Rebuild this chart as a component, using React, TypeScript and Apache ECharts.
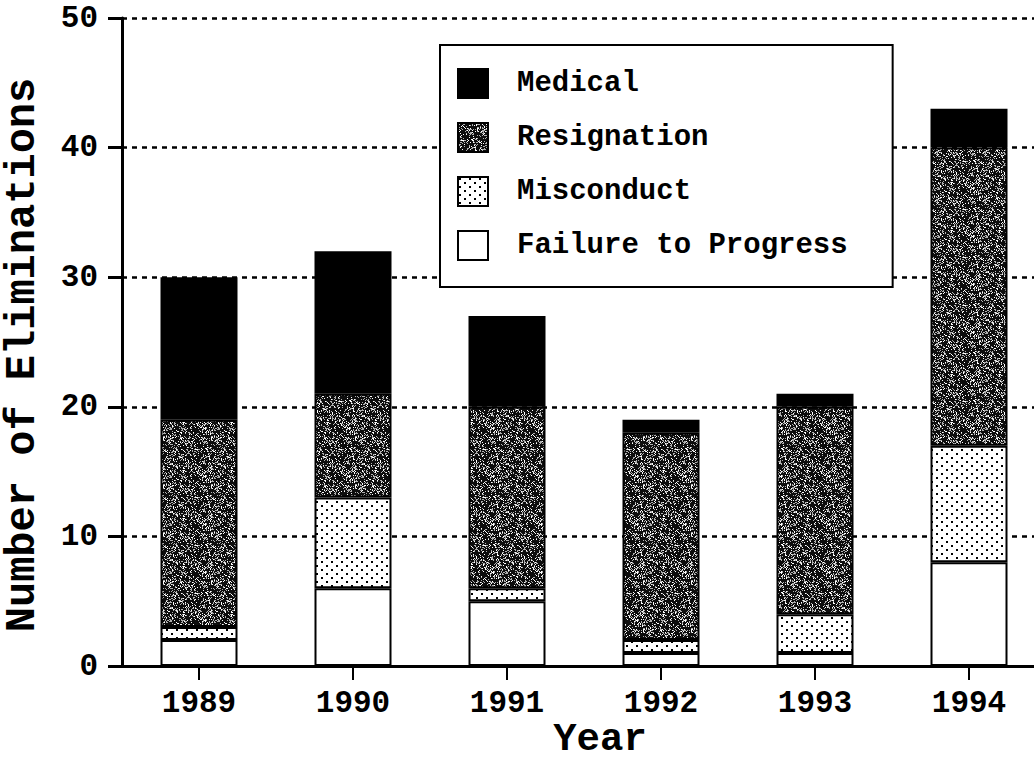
import React, { useEffect, useRef } from "react";
import * as echarts from "echarts";

const years = ["1989", "1990", "1991", "1992", "1993", "1994"];
const failureToProgress = [2, 6, 5, 1, 1, 8];
const misconduct = [1, 7, 1, 1, 3, 9];
const resignation = [16, 8, 14, 16, 16, 23];
const medical = [11, 11, 7, 1, 1, 3];
const legendOrder = ["Medical", "Resignation", "Misconduct", "Failure to Progress"];

const FONT = "'Liberation Mono', 'DejaVu Sans Mono', monospace";

function makeNoiseTile(): HTMLCanvasElement {
  const size = 48;
  const c = document.createElement("canvas");
  c.width = size;
  c.height = size;
  const ctx = c.getContext("2d")!;
  ctx.fillStyle = "#0d0d0d";
  ctx.fillRect(0, 0, size, size);
  for (let y = 0; y < size; y++) {
    for (let x = 0; x < size; x++) {
      const h = Math.sin(x * 12.9898 + y * 78.233) * 43758.5453;
      const f = h - Math.floor(h);
      const blob = Math.sin(x * 0.45) * Math.cos(y * 0.35) * 0.15;
      if (f + blob > 0.72) {
        ctx.fillStyle = f > 0.9 ? "#ffffff" : "#b0b0b0";
        ctx.fillRect(x, y, 1, 1);
      }
    }
  }
  return c;
}

function makeDotTile(): HTMLCanvasElement {
  const c = document.createElement("canvas");
  c.width = 10;
  c.height = 8;
  const ctx = c.getContext("2d")!;
  ctx.fillStyle = "#ffffff";
  ctx.fillRect(0, 0, 10, 8);
  ctx.fillStyle = "#000000";
  ctx.fillRect(1, 1, 2, 2);
  ctx.fillRect(6, 5, 2, 2);
  return c;
}

export default function App() {
  const ref = useRef<HTMLDivElement>(null);

  useEffect(() => {
    if (!ref.current) return;
    const chart = echarts.init(ref.current, undefined, { renderer: "svg" });
    const noise = makeNoiseTile();
    const dots = makeDotTile();
    const noisePattern: any = {
      image: noise.toDataURL(),
      repeat: "repeat",
      imageWidth: noise.width,
      imageHeight: noise.height,
    };
    const dotPattern: any = {
      image: dots.toDataURL(),
      repeat: "repeat",
      imageWidth: dots.width,
      imageHeight: dots.height,
    };
    const border = { borderColor: "#000", borderWidth: 2 };
    const barBase = {
      type: "bar" as const,
      stack: "total",
      barWidth: 77,
      emphasis: { disabled: true },
    };

    chart.setOption({
      animation: false,
      backgroundColor: "#ffffff",
      grid: {
        left: 122,
        right: -12,
        top: 18,
        bottom: 94,
        containLabel: false,
        outerBoundsMode: "none",
      },
      legend: {
        data: legendOrder,
        orient: "vertical",
        left: 440,
        top: 45,
        icon: "rect",
        itemWidth: 30,
        itemHeight: 29,
        itemGap: 23,
        padding: [23, 45, 26, 17],
        borderColor: "#000",
        borderWidth: 2,
        backgroundColor: "#fff",
        selectedMode: false,
        textStyle: {
          fontFamily: FONT,
          fontWeight: "bold",
          fontSize: 29,
          color: "#000",
          padding: [0, 0, 0, 24],
        },
      },
      xAxis: {
        type: "category",
        data: years,
        name: "Year",
        nameLocation: "middle",
        nameGap: 54,
        nameMoveOverlap: false,
        nameTextStyle: {
          fontFamily: FONT,
          fontWeight: "bold",
          fontSize: 39,
          lineHeight: 39,
          color: "#000",
          padding: [0, 0, 0, 32],
        },
        axisLine: { show: true, lineStyle: { color: "#000", width: 3 } },
        axisTick: {
          show: true,
          alignWithLabel: true,
          length: 14,
          lineStyle: { color: "#000", width: 2 },
        },
        axisLabel: {
          fontFamily: FONT,
          fontWeight: "bold",
          fontSize: 31,
          lineHeight: 31,
          color: "#000",
          margin: 22,
        },
        splitLine: { show: false },
      },
      yAxis: {
        type: "value",
        min: 0,
        max: 50,
        interval: 10,
        name: "Number of Eliminations",
        nameLocation: "middle",
        nameGap: 78,
        nameRotate: 90,
        nameTextStyle: {
          fontFamily: FONT,
          fontWeight: "bold",
          fontSize: 42,
          color: "#000",
          padding: [0, 26, 0, 0],
        },
        axisLine: { show: true, lineStyle: { color: "#000", width: 3 } },
        axisTick: { show: true, length: 14, lineStyle: { color: "#000", width: 3 } },
        axisLabel: {
          fontFamily: FONT,
          fontWeight: "bold",
          fontSize: 31,
          color: "#000",
          margin: 24,
        },
        splitLine: {
          show: true,
          lineStyle: { color: "#000", width: 2.5, type: [5, 5] },
        },
      },
      series: [
        {
          ...barBase,
          name: "Failure to Progress",
          data: failureToProgress,
          itemStyle: { color: "#ffffff", ...border },
        },
        {
          ...barBase,
          name: "Misconduct",
          data: misconduct,
          itemStyle: { color: dotPattern, ...border },
        },
        {
          ...barBase,
          name: "Resignation",
          data: resignation,
          itemStyle: { color: noisePattern, ...border },
        },
        {
          ...barBase,
          name: "Medical",
          data: medical,
          itemStyle: { color: "#000000", ...border },
        },
      ],
    });
    return () => chart.dispose();
  }, []);

  return (
    <div
      ref={ref}
      style={{ position: "fixed", left: 0, top: 0, width: 1034, height: 760, background: "#fff" }}
    />
  );
}
